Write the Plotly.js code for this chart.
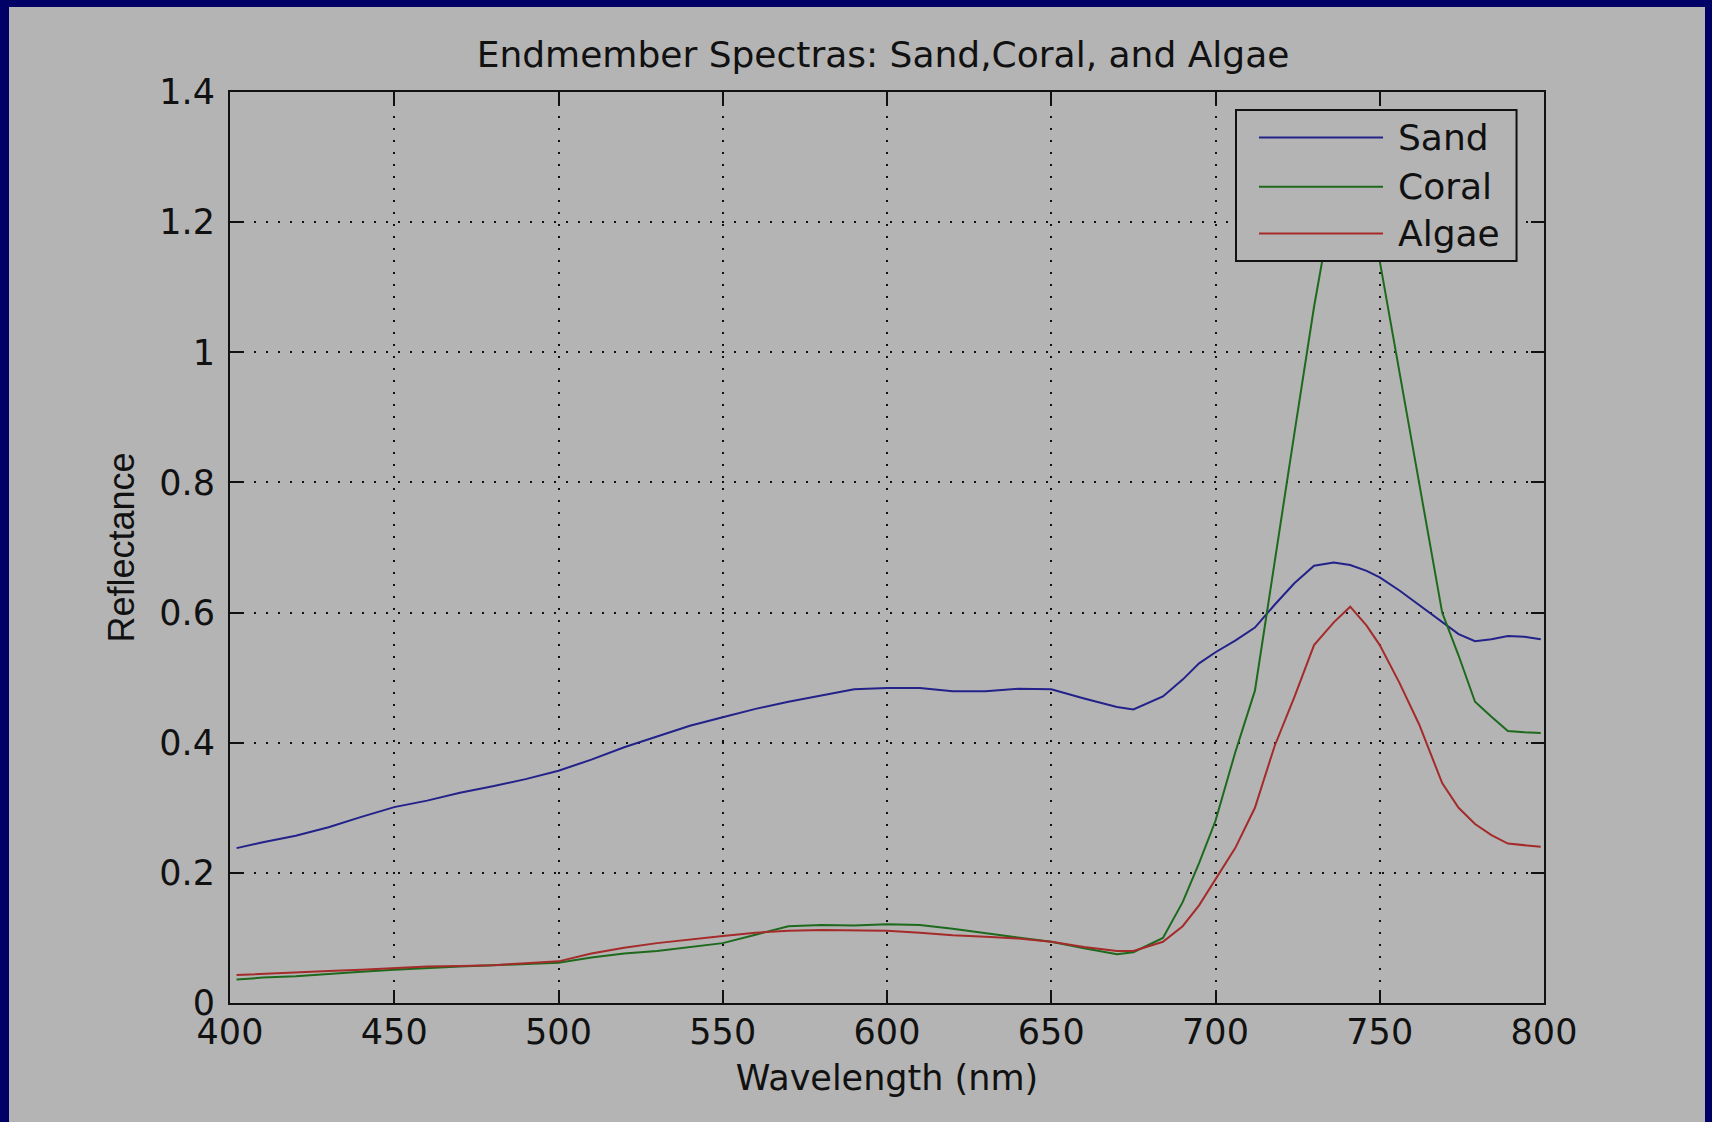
<!DOCTYPE html>
<html>
<head>
<meta charset="utf-8">
<script src="https://cdn.plot.ly/plotly-3.0.1.min.js"></script>
<style>
  html, body { margin: 0; padding: 0; background: #000066; width: 1712px; height: 1122px; overflow: hidden; }
  #chart { position: absolute; left: 9px; top: 7px; width: 1696px; height: 1115px; }
</style>
</head>
<body>
<div id="chart"></div>
<script>
// Wavelength samples (nm) shared by all three endmember spectra
const wavelength = [402, 410, 420, 430, 440, 450, 460, 470, 480, 490, 500, 510, 520, 530, 540,
  550, 560, 570, 580, 590, 600, 610, 620, 630, 640, 650, 660, 670, 675, 684, 690, 695, 700,
  706, 712, 718, 724, 730, 736, 741, 746, 750, 756, 762, 769, 774, 779, 784, 789, 794, 799];

// Reflectance of each endmember
const sand = [0.238, 0.247, 0.257, 0.270, 0.286, 0.301, 0.311, 0.323, 0.333, 0.344, 0.357, 0.374,
  0.393, 0.410, 0.426, 0.439, 0.452, 0.463, 0.473, 0.482, 0.484, 0.484, 0.479, 0.479, 0.483, 0.482,
  0.468, 0.455, 0.451, 0.471, 0.497, 0.522, 0.539, 0.557, 0.577, 0.612, 0.645, 0.672, 0.677, 0.673,
  0.664, 0.654, 0.634, 0.612, 0.585, 0.567, 0.556, 0.559, 0.564, 0.563, 0.559];

const coral = [0.036, 0.039, 0.041, 0.045, 0.048, 0.051, 0.054, 0.056, 0.058, 0.060, 0.062, 0.070,
  0.076, 0.080, 0.086, 0.092, 0.105, 0.118, 0.120, 0.119, 0.121, 0.120, 0.114, 0.107, 0.101, 0.094,
  0.084, 0.075, 0.078, 0.100, 0.155, 0.215, 0.280, 0.385, 0.480, 0.680, 0.875, 1.070, 1.240, 1.330,
  1.260, 1.140, 0.970, 0.800, 0.600, 0.534, 0.463, 0.440, 0.418, 0.416, 0.415];

const algae = [0.043, 0.045, 0.047, 0.049, 0.051, 0.054, 0.056, 0.057, 0.058, 0.061, 0.064, 0.076,
  0.085, 0.092, 0.098, 0.103, 0.108, 0.111, 0.112, 0.112, 0.111, 0.108, 0.104, 0.102, 0.099, 0.094,
  0.086, 0.080, 0.080, 0.094, 0.118, 0.150, 0.190, 0.238, 0.300, 0.395, 0.470, 0.550, 0.585, 0.609,
  0.580, 0.550, 0.492, 0.428, 0.338, 0.300, 0.275, 0.258, 0.245, 0.242, 0.240];

const seriesNames = ['Sand', 'Coral', 'Algae'];
const seriesColors = ['#22228a', '#1d6a1d', '#a52a2a'];

const BG = '#b4b4b4';
const INK = '#111111';
const FONT = 'DejaVu Sans';

const traces = [sand, coral, algae].map((vals, i) => ({
  type: 'scatter',
  mode: 'lines',
  name: seriesNames[i],
  x: wavelength,
  y: vals,
  line: { color: seriesColors[i], width: 2 },
  showlegend: false
}));

// Boxed key in the upper right, drawn opaque over the curves (paper coordinates)
const key = {
  box: { x0: 0.7656, x1: 0.9791, y0: 0.8145, y1: 0.9802 },
  lineX0: 0.7831, lineX1: 0.8775,
  textX: 0.8872,
  rowY: [0.9500, 0.8961, 0.8446]
};

const shapes = [{
  type: 'rect', xref: 'paper', yref: 'paper', layer: 'above',
  x0: key.box.x0, x1: key.box.x1, y0: key.box.y0, y1: key.box.y1,
  fillcolor: BG, line: { color: INK, width: 2 }
}].concat(seriesNames.map((name, i) => ({
  type: 'line', xref: 'paper', yref: 'paper', layer: 'above',
  x0: key.lineX0, x1: key.lineX1, y0: key.rowY[i], y1: key.rowY[i],
  line: { color: seriesColors[i], width: 2 }
})));

const annotations = seriesNames.map((name, i) => ({
  text: name, xref: 'paper', yref: 'paper',
  x: key.textX, y: key.rowY[i], xanchor: 'left', yanchor: 'middle',
  showarrow: false,
  font: { family: FONT, size: 36, color: INK }
}));

const axisCommon = {
  ticks: 'inside',
  ticklen: 13,
  tickwidth: 2,
  tickcolor: INK,
  showline: true,
  linecolor: INK,
  linewidth: 2,
  mirror: 'ticks',
  showgrid: true,
  gridcolor: INK,
  gridwidth: 2,
  griddash: '2px,10px',
  zeroline: false,
  tickfont: { family: FONT, size: 35, color: INK },
  automargin: false
};

const layout = {
  width: 1696,
  height: 1115,
  paper_bgcolor: BG,
  plot_bgcolor: BG,
  margin: { l: 221, r: 161, t: 85, b: 119 },
  showlegend: false,
  title: {
    text: 'Endmember Spectras: Sand,Coral, and Algae',
    font: { family: FONT, size: 36, color: INK },
    x: 0.497, xref: 'paper',
    y: 0.9575, yref: 'container', yanchor: 'middle'
  },
  xaxis: Object.assign({}, axisCommon, {
    range: [400, 800],
    tick0: 400,
    dtick: 50,
    ticklabelstandoff: -3,
    title: { text: 'Wavelength (nm)', font: { family: FONT, size: 35, color: INK }, standoff: 14 }
  }),
  yaxis: Object.assign({}, axisCommon, {
    range: [0, 1.4],
    tick0: 0,
    dtick: 0.2,
    ticklabelstandoff: 6,
    title: { text: 'Reflectance', font: { family: 'Liberation Sans', size: 36, color: INK }, standoff: 14 }
  }),
  shapes: shapes,
  annotations: annotations
};

Plotly.newPlot('chart', traces, layout, { displayModeBar: false, staticPlot: true });
</script>
</body>
</html>
